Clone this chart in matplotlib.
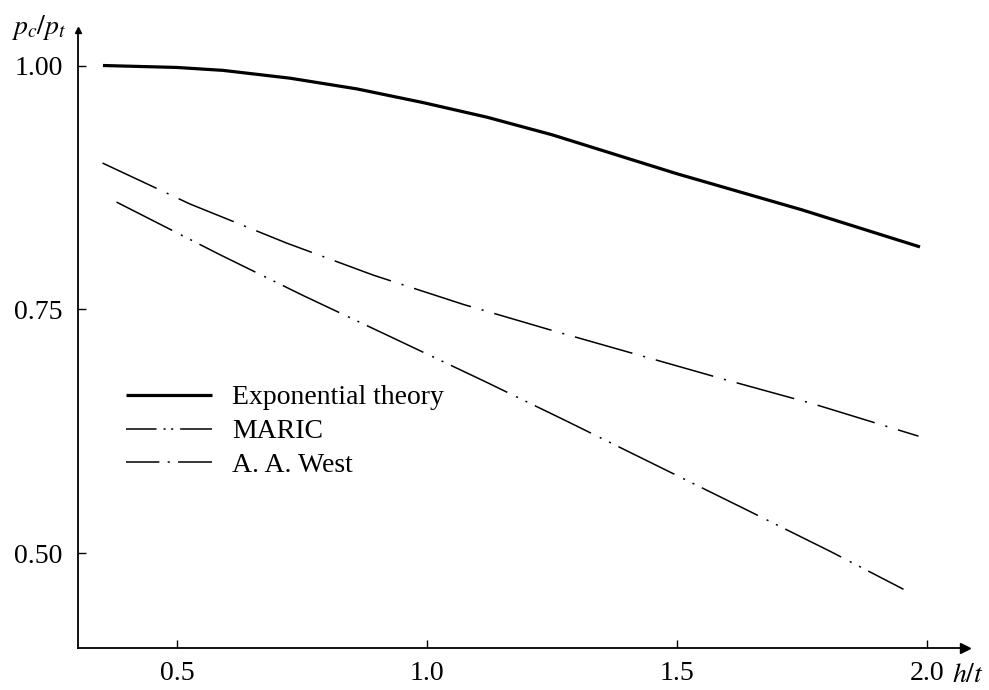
import matplotlib
matplotlib.use("Agg")
import matplotlib.pyplot as plt
from matplotlib.lines import Line2D

plt.rcParams['font.family'] = ['Liberation Serif', 'DejaVu Serif']
plt.rcParams['mathtext.fontset'] = 'stix'
plt.rcParams['lines.scale_dashes'] = False

# Data
h_exp = [0.352, 0.5, 0.592, 0.726, 0.86, 0.992, 1.12, 1.25, 1.5, 1.75, 1.986]
p_exp = [1.000, 0.998, 0.995, 0.987, 0.976, 0.962, 0.947, 0.929, 0.889, 0.852, 0.814]

h_west = [0.351, 0.526, 0.719, 0.893, 1.073, 1.246, 1.596, 1.773, 1.983]
p_west = [0.900, 0.858, 0.818, 0.785, 0.755, 0.729, 0.678, 0.653, 0.620]

h_maric = [0.379, 0.586, 0.753, 0.939, 1.116, 1.273, 1.633, 1.806, 1.953]
p_maric = [0.860, 0.806, 0.764, 0.719, 0.676, 0.637, 0.546, 0.502, 0.463]

labels = ['Exponential theory', 'MARIC', 'A. A. West']

x_ticks = [0.5, 1.0, 1.5, 2.0]
x_ticklabels = ["0.5", "1.0", "1.5", "2.0"]
y_ticks = [0.50, 0.75, 1.00]
y_ticklabels = ["0.50", "0.75", "1.00"]

W, H = 989, 690
fig = plt.figure(figsize=(W / 100, H / 100), dpi=100)
left, right, top, bottom = 78, 965, 30, 648
ax = fig.add_axes([left / W, 1 - bottom / H, (right - left) / W, (bottom - top) / H])

ax.plot(h_exp, p_exp, color='black', lw=2.3, solid_capstyle='butt', solid_joinstyle='round')
ax.plot(h_maric, p_maric, color='black', lw=1.1, dashes=(45, 7, 1.5, 6, 1.5, 6))
ax.plot(h_west, p_west, color='black', lw=1.1, dashes=(43, 8, 1.5, 8))

ax.set_xlim(0.302, 2.076)
ax.set_ylim(0.4028, 1.0364)

for s in ['top', 'right']:
    ax.spines[s].set_visible(False)
for s in ['left', 'bottom']:
    ax.spines[s].set_linewidth(1.3)

ax.set_xticks(x_ticks)
ax.set_xticklabels(x_ticklabels)
ax.set_yticks(y_ticks)
ax.set_yticklabels(y_ticklabels)
ax.tick_params(axis='both', direction='in', length=6, width=1, labelsize=20)
ax.tick_params(axis='x', pad=9)
ax.tick_params(axis='y', pad=11)

# axis arrows
ax.plot(1, 0, marker='>', color='black', markersize=7, transform=ax.transAxes, clip_on=False)
ax.plot(0, 1, marker='^', color='black', markersize=5, transform=ax.transAxes, clip_on=False)

fig.text(11 / W, 1 - 27 / H, r'$p_c/p_t$', fontsize=20, va='center', ha='left')
fig.text(952 / W, 1 - 675 / H, r'$h/t$', fontsize=20, va='center', ha='left')

handles = [
    Line2D([], [], color='black', lw=2.3, solid_capstyle='butt'),
    Line2D([], [], color='black', lw=1.1, dashes=(22, 5, 1.5, 4, 1.5, 5, 30)),
    Line2D([], [], color='black', lw=1.1, dashes=(24, 6, 1.5, 6, 30)),
]
leg = ax.legend(handles, labels, loc='upper left', bbox_to_anchor=(126 / W, 1 - 385 / H),
                bbox_transform=fig.transFigure, frameon=False, fontsize=20,
                handlelength=3.1, handletextpad=0.72, labelspacing=0.30,
                borderpad=0, borderaxespad=0)

fig.savefig('out.png', dpi=100)
